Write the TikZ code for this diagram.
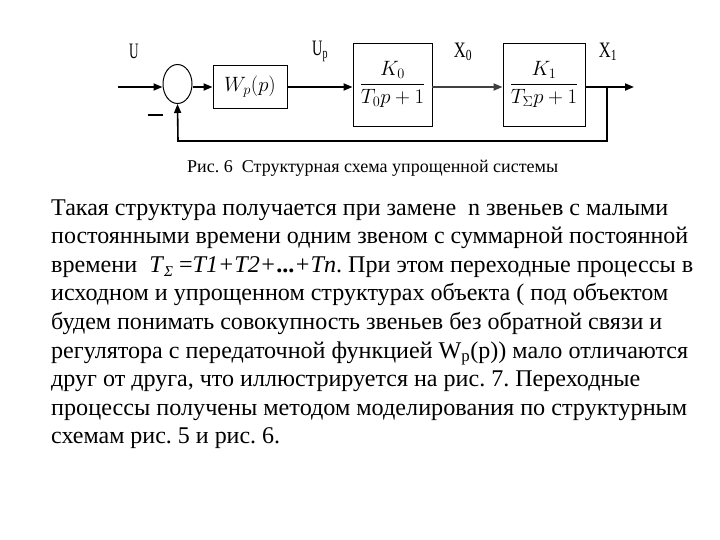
\documentclass[tikz,border=0pt]{standalone}
\usepackage{fontspec}
\setmainfont{Liberation Serif}
\newfontfamily\tnr{Liberation Serif}
\usetikzlibrary{arrows.meta,shapes.geometric}
\tikzset{
  blk/.style={draw, line width=0.9pt, inner sep=0pt},
  conn/.style={line width=1.8pt},
  arr/.style={conn, -{Triangle[length=9pt,width=7pt]}},
  lbl/.style={font=\tnr\fontsize{22}{22}\selectfont, inner sep=0pt},
  para/.style={font=\tnr\fontsize{24}{24}\selectfont, anchor=base west, inner sep=0pt},
  mth/.style={font=\fontsize{20}{20}\selectfont},
}
\newcommand{\fitline}[2]{\resizebox{#1pt}{\height}{#2}}
\begin{document}
\frenchspacing
\begin{tikzpicture}[x=1pt,y=-1pt]
\useasboundingbox (0,0) rectangle (720,540);
% blocks
\node[draw, ellipse, line width=1pt, minimum width=29pt, minimum height=39pt, inner sep=0pt] (sum) at (177.5,84) {};
\node[blk, mth, minimum width=74pt, minimum height=43pt] (wp) at (250,86.5) {$W_p(p)$};
\node[blk, mth, minimum width=79pt, minimum height=83pt] (k0) at (392.5,84.5) {$\displaystyle\frac{K_0}{T_0p+1}$};
\node[blk, mth, minimum width=82pt, minimum height=83pt] (k1) at (544,84.5) {$\displaystyle\frac{K_1}{T_\Sigma p+1}$};
% labels
\node[lbl] (lu) at (134,51) {\scalebox{0.6}[1]{U}};
\node[lbl] (lup) at (320,51) {\scalebox{0.65}[1]{U\textsubscript{p}}};
\node[lbl] (lx0) at (463,52) {\scalebox{0.75}[1]{X\textsubscript{0}}};
\node[lbl] (lx1) at (608,52) {\scalebox{0.75}[1]{X\textsubscript{1}}};
\node[inner sep=0pt] (minus) at (155,115) {\rule{15pt}{1.6pt}};
% connectors
\coordinate (in) at (118,87);
\coordinate (out) at (634,87);
\coordinate (br) at (607,87);
\coordinate (fbr) at (607,141);
\coordinate (fbl) at (178,141);
\draw[arr] (in) -- (in -| sum.west);
\draw[arr] (sum.east |- in) -- (wp.west |- in);
\draw[arr] (wp.east |- in) -- (k0.west |- in);
\draw[arr, black!75] (k0.east |- in) -- (k1.west |- in);
\draw[arr] (k1.east |- in) -- (out);
\draw[conn, line width=1.6pt, -{Triangle[length=9pt,width=7pt]}] (br) -- (fbr) -- (fbl) -- (sum.south);
% caption
\node[font=\tnr\fontsize{18}{18}\selectfont, anchor=base west, inner sep=0pt] (cap) at (187,173) {\fitline{371}{Рис. 6\ \ Структурная схема упрощенной системы}};
% paragraph
\node[para] (l1) at (51,215) {\fitline{617}{Такая структура получается при замене\ \ n звеньев с малыми}};
\node[para] (l2) at (51,243.6) {\fitline{637}{постоянными времени одним звеном с суммарной постоянной}};
\node[para] (l3) at (51,272.2) {\fitline{642}{времени\ \ \textit{T}\raisebox{-0.35ex}{\fontsize{15}{15}\selectfont\textit{Σ}} =\textit{T1+T2+}\textbf{...}\textit{+Tn}. При этом переходные процессы в}};
\node[para] (l4) at (51,300.8) {\fitline{617}{исходном и упрощенном структурах объекта ( под объектом}};
\node[para] (l5) at (51,329.4) {\fitline{611}{будем понимать совокупность звеньев без обратной связи и}};
\node[para] (l6) at (51,358) {\fitline{637}{регулятора с передаточной функцией W\textsubscript{p}(p)) мало отличаются}};
\node[para] (l7) at (51,386.6) {\fitline{589}{друг от друга, что иллюстрируется на рис. 7. Переходные}};
\node[para] (l8) at (51,415.2) {\fitline{636}{процессы получены методом моделирования по структурным}};
\node[para] (l9) at (51,443.8) {\fitline{229}{схемам рис. 5 и рис. 6.}};
\end{tikzpicture}
\end{document}
